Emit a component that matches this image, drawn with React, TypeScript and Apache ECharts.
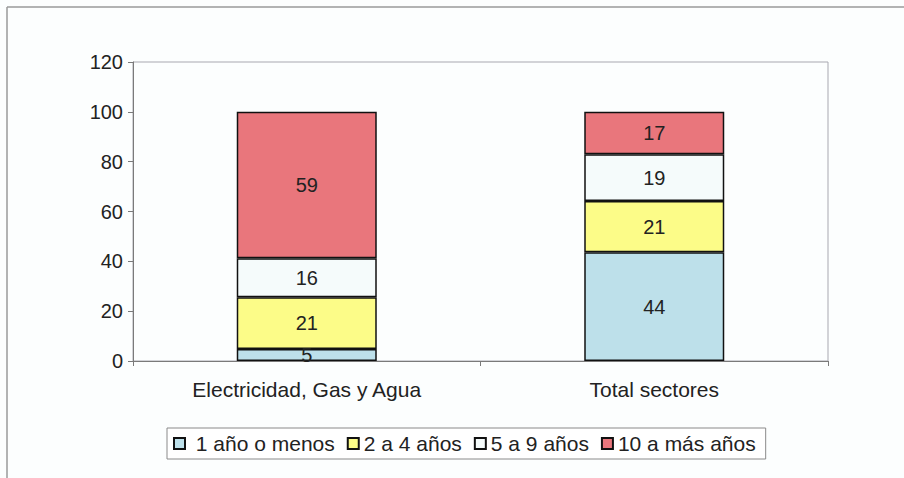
import React, { useEffect, useRef } from "react";
import * as echarts from "echarts";

const categories = ["Electricidad, Gas y Agua", "Total sectores"];
const seriesNames = ["1 año o menos", "2 a 4 años", "5 a 9 años", "10 a más años"];
const s1 = [4.8, 43.6];
const s2 = [20.8, 20.6];
const s3 = [15.6, 18.8];
const s4 = [58.8, 17.0];
const colors = ["#bde0ea", "#fcfc88", "#f5fbfb", "#e9767c"];
const yTicks = { min: 0, max: 120, interval: 20 };

const FONT = "Liberation Sans, Arial, sans-serif";

export default function App() {
  const ref = useRef<HTMLDivElement>(null);
  useEffect(() => {
    document.body.style.margin = "0";
    const chart = echarts.init(ref.current!, null, { renderer: "svg" });
    const values = [s1, s2, s3, s4];
    chart.setOption({
      animation: false,
      backgroundColor: "#fcfefe",
      textStyle: { fontFamily: FONT },
      graphic: [
        { type: "line", shape: { x1: 7, y1: 7, x2: 904, y2: 7 }, style: { stroke: "#9a9a9a", lineWidth: 1.5 } },
        { type: "line", shape: { x1: 7, y1: 7, x2: 7, y2: 478 }, style: { stroke: "#9a9a9a", lineWidth: 1.5 } },
      ],
      grid: {
        left: 133,
        top: 62,
        right: 76,
        bottom: 117,
        show: true,
        borderColor: "#a8a8b0",
        borderWidth: 1,
        backgroundColor: "transparent",
      },
      legend: {
        left: 167,
        top: 428,
        data: seriesNames,
        icon: "rect",
        itemWidth: 11,
        itemHeight: 11,
        itemGap: 12,
        padding: [5, 10, 5, 6],
        borderColor: "#8a8a8a",
        borderWidth: 1,
        backgroundColor: "#ffffff",
        formatter: (name: string) => (name === seriesNames[0] ? " " + name : name),
        textStyle: { fontFamily: FONT, fontSize: 21, color: "#222" },
      },
      xAxis: {
        type: "category",
        data: categories,
        axisLine: { lineStyle: { color: "#7a7a7a", width: 1 } },
        axisTick: { show: true, length: 5, lineStyle: { color: "#7a7a7a" } },
        axisLabel: { fontFamily: FONT, fontSize: 21, color: "#222", margin: 18 },
      },
      yAxis: {
        type: "value",
        min: yTicks.min,
        max: yTicks.max,
        interval: yTicks.interval,
        axisLine: { show: true, lineStyle: { color: "#7a7a7a", width: 1 } },
        axisTick: { show: true, length: 5, lineStyle: { color: "#7a7a7a" } },
        splitLine: { show: false },
        axisLabel: { fontFamily: FONT, fontSize: 20, color: "#222", margin: 10 },
      },
      series: seriesNames.map((name, i) => ({
        name,
        type: "bar",
        stack: "total",
        barWidth: 140,
        data: values[i],
        itemStyle: { color: colors[i], borderColor: "#111", borderWidth: 1.5 },
        label: {
          show: true,
          position: "inside",
          fontFamily: FONT,
          fontSize: 20,
          color: "#222",
          formatter: (p: any) => String(Math.round(p.value)),
        },
      })),
    });
    return () => chart.dispose();
  }, []);
  return <div ref={ref} style={{ width: 904, height: 478 }} />;
}
